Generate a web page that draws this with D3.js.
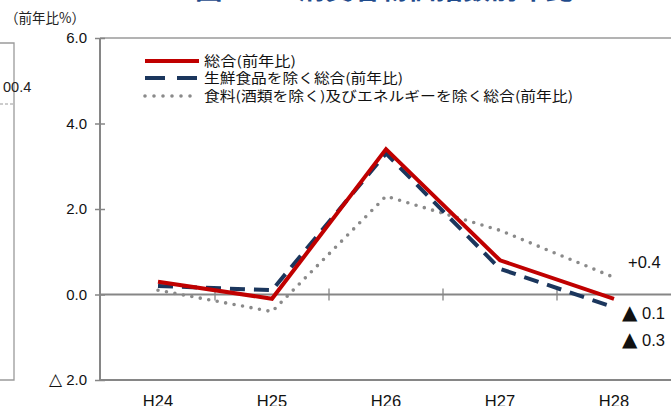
<!DOCTYPE html>
<html><head><meta charset="utf-8">
<script src="https://cdn.jsdelivr.net/npm/d3@7"></script>
<style>
html,body{margin:0;padding:0;background:#fff;overflow:hidden;}
svg{display:block;}
</style></head>
<body>
<svg id="c" width="671" height="406"></svg>
<script>
const categories = ["H24","H25","H26","H27","H28"];
const totalValues = [0.3, -0.1, 3.4, 0.8, -0.1];
const coreValues = [0.2, 0.1, 3.3, 0.6, -0.3];
const coreCoreValues = [0.1, -0.4, 2.3, 1.5, 0.4];
const seriesNames = ["総合(前年比)", "生鮮食品を除く総合(前年比)", "食料(酒類を除く)及びエネルギーを除く総合(前年比)"];
const yTicks = [-2, 0, 2, 4, 6];
const yTickLabels = ["△ 2.0", "0.0", "2.0", "4.0", "6.0"];
const endLabels = ["+0.4", "▲ 0.1", "▲ 0.3"];
const titleText = "図2-3-1 消費者物価指数前年比";
const unitLabel = "（前年比%）";

(function () {
const svg = d3.select("#c");
const W = 671;
const pLeft = 101, pRight = 671, pTop = 38, pBottom = 380;
const axisColor = "#868686";
const jp = "'Noto Sans CJK JP','Noto Sans',sans-serif";
const num = "'Liberation Sans','Arial',sans-serif";

const x = d3.scaleBand().domain(categories).range([pLeft, pRight]).padding(0);
const y = d3.scaleLinear().domain([-2, 6]).range([pBottom, pTop]);
const cx = c => x(c) + x.bandwidth() / 2;

// write a label, enlarging a leading triangle symbol
function symText(sel, str, symSize) {
  sel.text(null);
  const m = str.match(/^([△▲])(.*)$/);
  if (m) {
    sel.append("tspan").attr("font-family", "'DejaVu Sans',sans-serif")
      .attr("font-size", symSize).text(m[1]);
    sel.append("tspan").text(m[2]);
  } else {
    sel.text(str);
  }
}

// title (mostly cut off)
svg.append("text").attr("x", 195).attr("y", -1).attr("font-family", jp)
  .attr("font-weight", "bold").attr("font-size", 23).attr("fill", "#1f4b8c")
  .attr("textLength", 378).attr("lengthAdjust", "spacingAndGlyphs").text(titleText);

// unit label
svg.append("text").attr("x", 5).attr("y", 23).attr("font-family", jp)
  .attr("font-size", 14).attr("fill", "#222").attr("textLength", 80)
  .attr("lengthAdjust", "spacingAndGlyphs").text(unitLabel);

// fragment of neighbouring chart at left edge
const frag = svg.append("g");
frag.append("path").attr("d", "M0,43H14V380H0").attr("fill", "none")
  .attr("stroke", "#9a9a9a").attr("stroke-width", 1.3);
frag.append("line").attr("x1", 0).attr("x2", 13).attr("y1", 104).attr("y2", 104)
  .attr("stroke", "#9a9a9a").attr("stroke-width", 1).attr("stroke-dasharray", "3,2");
frag.append("text").attr("x", 3).attr("y", 92).attr("font-family", num)
  .attr("font-size", 14.5).attr("fill", "#222").text("00.4");

// top border
svg.append("line").attr("x1", pLeft - 1).attr("x2", W).attr("y1", pTop).attr("y2", pTop)
  .attr("stroke", "#9a9a9a").attr("stroke-width", 1.5);
// bottom line
svg.append("line").attr("x1", pLeft - 1).attr("x2", W).attr("y1", pBottom).attr("y2", pBottom)
  .attr("stroke", axisColor).attr("stroke-width", 2);

// y axis
const yAxis = svg.append("g").attr("transform", `translate(${pLeft - 1},0)`)
  .call(d3.axisLeft(y).tickValues(yTicks).tickSize(5).tickPadding(8)
    .tickFormat((d, i) => yTickLabels[i]));
yAxis.select(".domain").attr("stroke", axisColor).attr("stroke-width", 2)
  .attr("d", `M0,${pTop}V${pBottom}`);
yAxis.selectAll(".tick line").attr("stroke", axisColor).attr("stroke-width", 1.5)
  .attr("x1", -5).attr("x2", 5);
yAxis.selectAll(".tick text").attr("font-family", num).attr("font-size", 15)
  .attr("fill", "#111").attr("x", -13)
  .each(function (d, i) { symText(d3.select(this), yTickLabels[i], 17); });

// zero line
svg.append("line").attr("x1", pLeft - 1).attr("x2", W).attr("y1", y(0)).attr("y2", y(0))
  .attr("stroke", axisColor).attr("stroke-width", 2);
// category boundary ticks on zero line
svg.append("g").selectAll("line").data(categories.slice(1)).join("line")
  .attr("x1", d => x(d)).attr("x2", d => x(d))
  .attr("y1", y(0) - 6).attr("y2", y(0) + 6)
  .attr("stroke", axisColor).attr("stroke-width", 1.3);

// x labels
const xAxis = svg.append("g").attr("transform", `translate(0,${pBottom})`)
  .call(d3.axisBottom(x).tickSize(0).tickPadding(0));
xAxis.select(".domain").remove();
xAxis.selectAll(".tick text").attr("font-family", num).attr("font-size", 16.5)
  .attr("fill", "#111").attr("dy", null).attr("y", 27);

// series
const line = d3.line().x((d, i) => cx(categories[i])).y(d => y(d));
const series = [
  {vals: coreCoreValues, color: "#8a8a8a", width: 3.6, dash: "0,8.6", cap: "round"},
  {vals: coreValues, color: "#1b365d", width: 4, dash: "15,9", cap: "butt"},
  {vals: totalValues, color: "#c00000", width: 4, dash: null, cap: "butt"}
];
svg.append("g").selectAll("path").data(series).join("path")
  .attr("d", d => line(d.vals)).attr("fill", "none")
  .attr("stroke", d => d.color).attr("stroke-width", d => d.width)
  .attr("stroke-dasharray", d => d.dash).attr("stroke-linecap", d => d.cap)
  .attr("stroke-linejoin", "miter");

// legend
const legendSeries = [series[2], series[1], series[0]];
const legY = [61, 78, 96];
const legW = [92, 199, 369];
const leg = svg.append("g");
legendSeries.forEach((s, i) => {
  leg.append("line").attr("x1", 145).attr("x2", 199).attr("y1", legY[i]).attr("y2", legY[i])
    .attr("stroke", s.color).attr("stroke-width", s.width)
    .attr("stroke-dasharray", i === 1 ? "20,12" : (i === 2 ? "0,9" : null))
    .attr("stroke-linecap", i === 2 ? "round" : "butt");
  leg.append("text").attr("x", 204).attr("y", legY[i] + 5).attr("font-family", jp)
    .attr("font-size", 13.5).attr("fill", "#111")
    .attr("textLength", legW[i]).attr("lengthAdjust", "spacingAndGlyphs")
    .text(seriesNames[i]);
});

// end labels
const endX = [628, 622, 622];
const endY = [268, 319, 346];
endLabels.forEach((t, i) => {
  const el = svg.append("text").attr("x", endX[i]).attr("y", endY[i]).attr("font-family", num)
    .attr("font-size", 16.5).attr("fill", "#111");
  symText(el, t, 20);
});
})();
</script>
</body></html>
